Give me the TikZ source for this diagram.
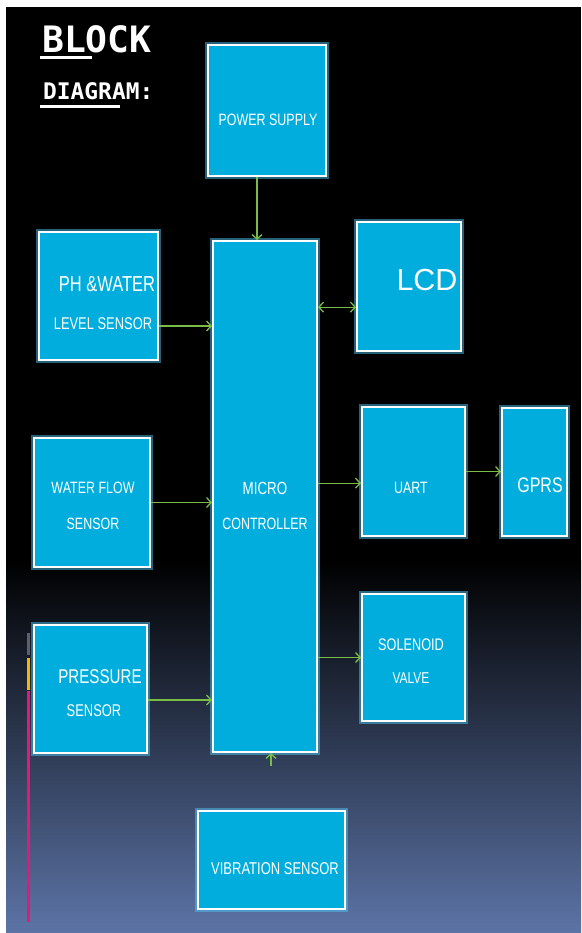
\documentclass[tikz,border=0pt]{standalone}
\usepackage{fontspec}
\usepackage{tikz}
\usepackage{xcolor}
\usetikzlibrary{arrows.meta,positioning}

\setmainfont{Liberation Sans}
\newfontfamily\boxfont[FakeStretch=0.76]{Liberation Sans}
\newfontfamily\titlefont{DejaVu Sans Mono}

\definecolor{boxcyan}{RGB}{0,173,220}
\definecolor{wiregreen}{RGB}{122,188,72}
\definecolor{bgblue}{RGB}{92,116,166}
\definecolor{bargray}{RGB}{89,96,110}
\definecolor{baryellow}{RGB}{242,184,0}
\definecolor{barpink}{RGB}{229,23,123}

\tikzset{
  blockbox/.style={rectangle, fill=boxcyan, draw=white, line width=1.6pt, inner sep=0pt,
    preaction={draw=cyan!70!white, line width=5pt, opacity=0.5}},
  boxtext/.style={text=white, inner sep=0pt},
  wire/.style={draw=wiregreen, line width=1.1pt, -{Straight Barb[length=4pt,width=8.5pt]}},
}

\begin{document}
\begin{tikzpicture}[x=0.03cm,y=-0.03cm]
\useasboundingbox (0,0) rectangle (581,933);
\fill[white] (0,0) rectangle (581,933);
% background
\fill[black] (6,7) rectangle (581,561);
\shade[top color=black, bottom color=bgblue] (6,560) rectangle (581,933);
% side bars
\fill[bargray] (27,633) rectangle (30,655);
\fill[baryellow] (27,658) rectangle (30,690);
\fill[barpink] (27,691) rectangle (30,922);

% title
\node[anchor=base west, text=white, inner sep=0pt] (title1) at (42,53) {\titlefont\bfseries\fontsize{31}{32}\selectfont BLOCK};
\node[anchor=base west, text=white, inner sep=0pt] (title2) at (43,100) {\titlefont\bfseries\fontsize{19.5}{21}\selectfont DIAGRAM:};
\draw[white, line width=1.8pt] (40,57.5) -- (92,57.5);
\draw[white, line width=1.8pt] (40,106.5) -- (120,106.5);

% blocks
\foreach \name/\cx/\cy/\w/\h in {
  ps/267/110.5/118/131,
  mc/265/496.5/104/511,
  ph/98.5/296/119/128,
  wf/92/502.5/116/129,
  pr/90.5/689/113/128,
  lcd/409/286.5/104/129,
  uart/413.5/471.5/103/129,
  gprs/534.5/472/65/128,
  sv/413.5/657.5/103/127,
  vs/271.5/860/147/98
} {
  \node[blockbox, minimum width=\w*0.03cm, minimum height=\h*0.03cm] (\name) at (\cx,\cy) {};
}

% labels
\foreach \tx/\ty/\ts/\tt [count=\i] in {
  268/120/14/POWER SUPPLY,
  107/284/18.5/PH \&WATER,
  103/324/14.5/LEVEL SENSOR,
  93/488/14/WATER FLOW,
  93/524/14/SENSOR,
  100/677/17/PRESSURE,
  94/711/14.5/SENSOR,
  265/488/15/MICRO,
  265/524/14/CONTROLLER,
  411/488/14/UART,
  540/485/18/GPRS,
  411/645/14.3/SOLENOID,
  411/678/13.4/VALVE,
  275/869/14.6/VIBRATION SENSOR
} {
  \node[boxtext] (lbl\i) at (\tx,\ty) {\boxfont\fontsize{\ts}{\ts}\selectfont \tt};
}
\node[boxtext] (lcdlbl) at (427,280) {\fontsize{26}{28}\selectfont LCD};

% connections
\draw[wire] ([xshift=-0.3cm]ps.south) -- ([xshift=-0.3cm]ps.south |- mc.north);
\draw[wire] ([yshift=-0.9cm]ph.east) -- ([yshift=-0.9cm]ph.east -| mc.west);
\draw[wire] (wf.east) -- (wf.east -| mc.west);
\draw[wire] ([yshift=-0.33cm]pr.east) -- ([yshift=-0.33cm]pr.east -| mc.west);
\draw[wire, {Straight Barb[length=4pt,width=8.5pt]}-{Straight Barb[length=4pt,width=8.5pt]}] ([yshift=-0.62cm]lcd.west -| mc.east) -- ([yshift=-0.62cm]lcd.west);
\draw[wire] ([yshift=-0.35cm]uart.west -| mc.east) -- ([yshift=-0.35cm]uart.west);
\draw[wire] (uart.east) -- (uart.east -| gprs.west);
\draw[wire] (sv.west -| mc.east) -- (sv.west);
\coordinate (vtail) at (271,766);
\draw[wire] (vtail) -- (vtail |- mc.south);
\end{tikzpicture}
\end{document}
